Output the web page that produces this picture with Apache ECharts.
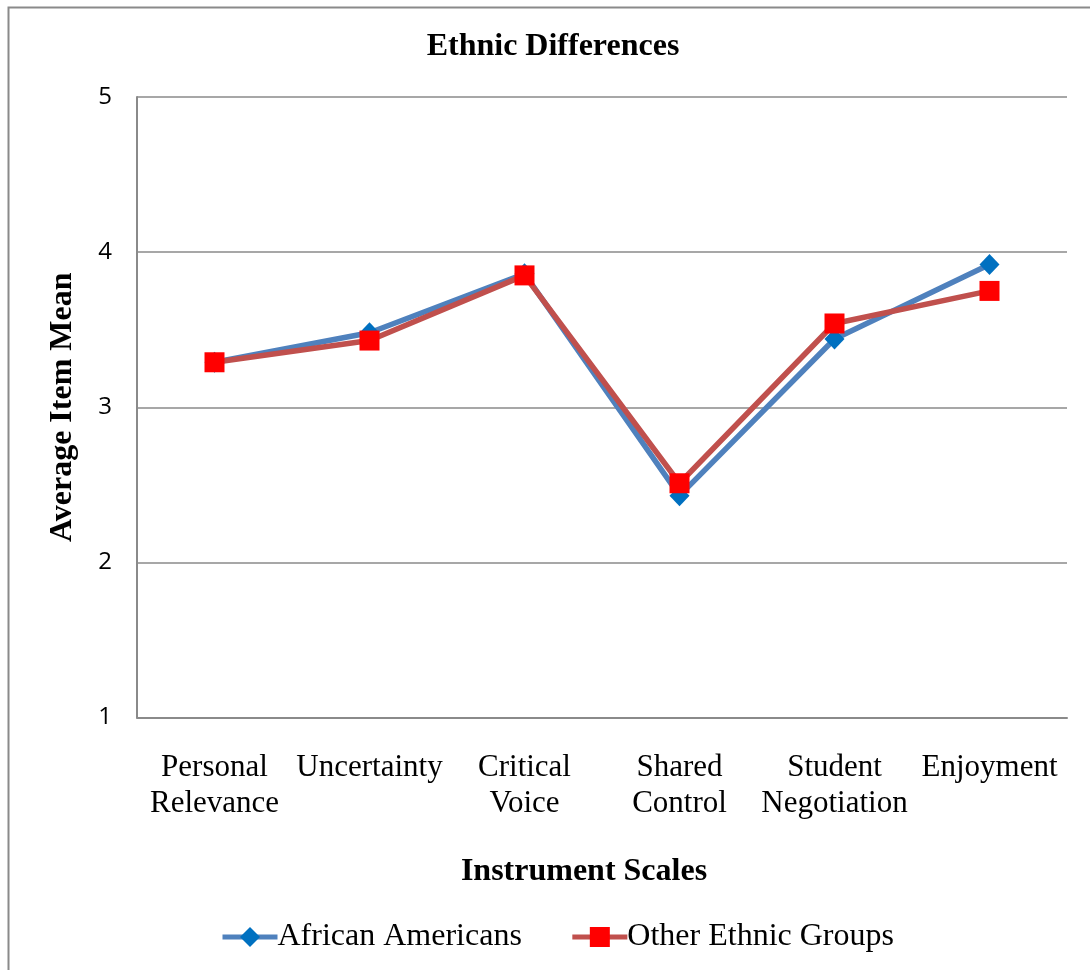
<!DOCTYPE html>
<html>
<head>
<meta charset="utf-8">
<title>Ethnic Differences</title>
<script src="https://cdn.jsdelivr.net/npm/echarts@6/dist/echarts.min.js"></script>
<style>
  html, body { margin: 0; padding: 0; background: #ffffff; }
  #chart { width: 1090px; height: 970px; }
</style>
</head>
<body>
<div id="chart"></div>
<script>
// Instrument scales along the x axis
const categories = [
  'Personal\nRelevance',
  'Uncertainty',
  'Critical\nVoice',
  'Shared\nControl',
  'Student\nNegotiation',
  'Enjoyment'
];

// Average item mean per scale for each group
const africanAmericans = [3.29, 3.48, 3.86, 2.43, 3.44, 3.92];
const otherEthnicGroups = [3.29, 3.43, 3.85, 2.51, 3.54, 3.75];

// Value axis ticks
const yTicks = [1, 2, 3, 4, 5];

const serif = '"Liberation Serif", "Times New Roman", serif';
const sans = '"Open Sans", "Liberation Sans", sans-serif';
const gridGray = '#8a8a8a';

const chart = echarts.init(document.getElementById('chart'), null, { renderer: 'canvas' });

chart.setOption({
  backgroundColor: '#ffffff',
  animation: false,
  graphic: [
    {
      type: 'rect',
      shape: { x: 8.5, y: 7.5, width: 1200, height: 1200 },
      style: { fill: 'none', stroke: '#8a8a8a', lineWidth: 2 },
      silent: true
    },
    {
      type: 'text',
      style: {
        text: 'Ethnic Differences',
        x: 553,
        y: 47,
        align: 'center',
        verticalAlign: 'middle',
        font: 'bold 32px ' + serif,
        fill: '#000'
      },
      silent: true
    }
  ],
  legend: {
    left: 220,
    top: 921,
    padding: 0,
    itemWidth: 55,
    itemHeight: 25,
    itemGap: 48,
    lineStyle: { width: 5 },
    textStyle: { fontFamily: serif, fontSize: 32, color: '#000', padding: [0, 0, 0, -5] },
    data: ['African Americans', 'Other Ethnic Groups']
  },
  grid: {
    left: 137,
    right: 23,
    top: 97,
    bottom: 252.5,
    containLabel: false
  },
  xAxis: {
    type: 'category',
    data: categories,
    boundaryGap: true,
    name: 'Instrument Scales',
    nameLocation: 'middle',
    nameGap: 138,
    nameTextStyle: {
      fontFamily: serif, fontWeight: 'bold', fontSize: 32, color: '#000',
      padding: [0, 36, 0, 0]
    },
    axisLine: { show: true, lineStyle: { color: gridGray, width: 2 } },
    axisTick: { show: false },
    axisLabel: {
      interval: 0,
      margin: 32,
      fontFamily: serif,
      fontSize: 31,
      lineHeight: 36,
      color: '#000'
    },
    splitLine: { show: false }
  },
  yAxis: {
    type: 'value',
    min: yTicks[0],
    max: yTicks[yTicks.length - 1],
    interval: 1,
    name: 'Average Item Mean',
    nameLocation: 'middle',
    nameGap: 58,
    nameRotate: 90,
    nameTextStyle: { fontFamily: serif, fontWeight: 'bold', fontSize: 32, color: '#000' },
    axisLine: { show: true, lineStyle: { color: gridGray, width: 2 } },
    axisTick: { show: false },
    axisLabel: {
      margin: 25,
      fontFamily: sans,
      fontSize: 24,
      color: '#000',
      formatter: (v) => (yTicks.includes(v) ? String(v) : '')
    },
    splitLine: { show: true, lineStyle: { color: gridGray, width: 1.5 } }
  },
  series: [
    {
      name: 'African Americans',
      type: 'line',
      data: africanAmericans,
      symbol: 'diamond',
      symbolSize: [20, 21],
      lineStyle: { color: '#4F81BD', width: 5.5 },
      itemStyle: { color: '#0070C0', borderWidth: 0 },
      z: 2
    },
    {
      name: 'Other Ethnic Groups',
      type: 'line',
      data: otherEthnicGroups,
      symbol: 'rect',
      symbolSize: 20,
      lineStyle: { color: '#C0504D', width: 5.5 },
      itemStyle: { color: '#FF0000', borderWidth: 0 },
      z: 3
    }
  ]
});
</script>
</body>
</html>
